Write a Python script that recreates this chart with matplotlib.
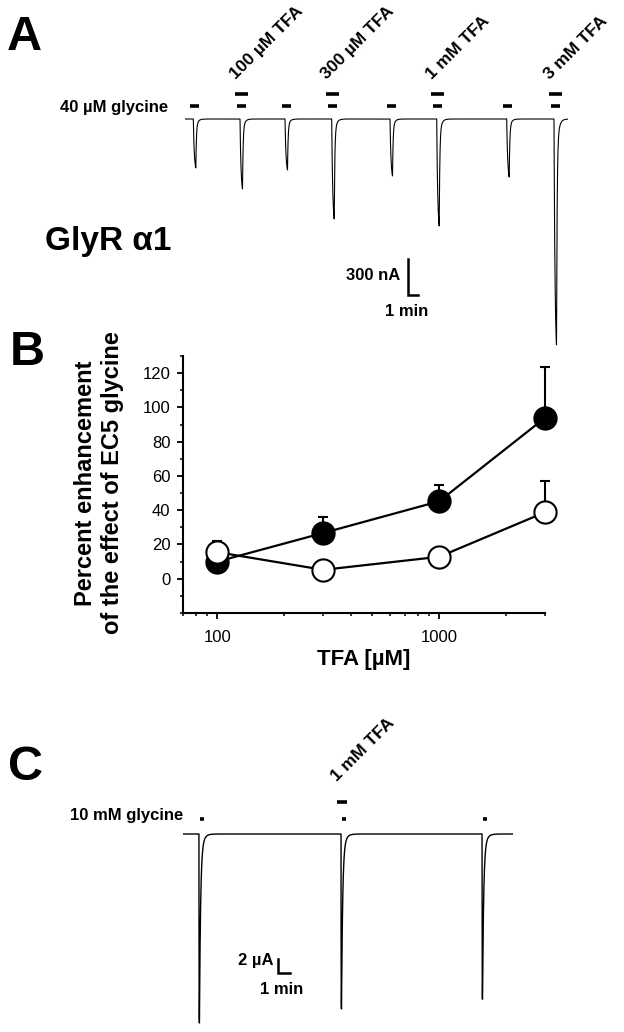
import numpy as np
import matplotlib
matplotlib.use('Agg')
import matplotlib.pyplot as plt
from matplotlib.ticker import FixedLocator, MultipleLocator, LogLocator, NullFormatter

plt.rcParams['font.family'] = ['Liberation Sans', 'DejaVu Sans']

# ---- data ----
# panel A: 40 uM glycine applications (min) and peak currents (nA)
A_times = [0.83, 5.5, 10.0, 14.67, 20.5, 25.17, 32.17, 36.9]
A_amps = [408, 583, 425, 833, 475, 892, 483, 1883]
A_tfa_idx = [1, 3, 5, 7]
A_tfa_labels = ['100 µM TFA', '300 µM TFA', '1 mM TFA', '3 mM TFA']
A_end = 38.3

# panel B: percent enhancement vs TFA concentration
tfa_conc = [100, 300, 1000, 3000]
filled_mean = [10.0, 26.7, 45.2, 93.9]
filled_sem = [3.0, 9.3, 9.3, 29.6]
open_mean = [15.5, 5.2, 12.8, 38.8]
open_sem = [6.5, 3.0, 3.0, 18.0]

# panel C: 10 mM glycine applications (min) and peak currents (uA)
C_times = [1.33, 13.17, 24.92]
C_amps = [27.0, 25.0, 23.6]
C_tfa_idx = [1]
C_tfa_labels = ['1 mM TFA']
C_end = 27.5

W, H = 624, 1032
fig = plt.figure(figsize=(W / 100, H / 100), dpi=100)


def fx(px):
    return px / W


def fy(py):
    return 1 - py / H


def trace(t, times, amps, tau_on, dur, tau1, tau2, frac):
    y = np.zeros_like(t)
    for t0, a in zip(times, amps):
        s = t - t0
        on = (s >= 0) & (s < dur)
        y[on] -= a * (1 - np.exp(-s[on] / tau_on)) / (1 - np.exp(-dur / tau_on))
        off = s >= dur
        r = s[off] - dur
        y[off] -= a * ((1 - frac) * np.exp(-r / tau1) + frac * np.exp(-r / tau2))
    return y


def bar(ax, x0, x1, y):
    ax.plot([x0, x1], [y, y], color='k', lw=2.6, solid_capstyle='butt', clip_on=False)


# ---------------- panel A ----------------
pxmin_A = 10.0          # px per min
pxnA = 36 / 300.0       # px per nA
base_A = 119
axA = fig.add_axes([fx(185), fy(350), (568 - 185) / W, (350 - 60) / H])
tA = np.linspace(0, A_end, 30000)
axA.plot(tA, trace(tA, A_times, A_amps, 0.1, 0.25, 0.06, 0.2, 0.15), color='k', lw=0.8)
axA.set_xlim(0, A_end)
axA.set_ylim(-(350 - base_A) / pxnA, (base_A - 60) / pxnA)
axA.axis('off')

gly_y = 13 / pxnA
tfa_y = 25 / pxnA
for t0 in A_times:
    bar(axA, t0 - 0.33, t0 + 0.57, gly_y)
for i, lab in zip(A_tfa_idx, A_tfa_labels):
    t0 = A_times[i]
    bar(axA, t0 - 0.55, t0 + 0.75, tfa_y)
    axA.text(t0 - 0.45, 39 / pxnA, lab, rotation=45, rotation_mode='anchor',
             ha='left', va='baseline', fontsize=12.5, fontweight='bold')

# scale bar A: 300 nA, 1 min
sbx = (407.7 - 185) / pxmin_A
sby = -(295 - base_A) / pxnA
axA.plot([sbx, sbx, sbx + 1], [sby + 300, sby, sby], color='k', lw=1.8,
         solid_joinstyle='miter', clip_on=False)

fig.text(fx(7), fy(50), 'A', fontsize=35, fontweight='bold', va='baseline')
fig.text(fx(168), fy(112), '40 µM glycine', fontsize=12, fontweight='bold',
         ha='right', va='baseline')
fig.text(fx(45), fy(250), 'GlyR α1', fontsize=24, fontweight='bold', va='baseline')
fig.text(fx(400), fy(275), '300 nA', fontsize=12, fontweight='bold', ha='right', va='center')
fig.text(fx(407), fy(311), '1 min', fontsize=12, fontweight='bold', ha='center', va='center')

# ---------------- panel B ----------------
axB = fig.add_axes([fx(183), fy(613), (545 - 183) / W, (613 - 356) / H])
axB.set_xscale('log')
z = np.zeros(len(tfa_conc))
for mean, sem, face, zo in [(filled_mean, filled_sem, 'k', 3), (open_mean, open_sem, 'white', 4)]:
    eb = axB.errorbar(tfa_conc, mean, yerr=[z, sem], fmt='-o', color='k',
                      mfc=face, mec='k', ms=16, lw=1.6, mew=1.5, capsize=3.5,
                      capthick=1.5, elinewidth=1.5, zorder=zo)
    for art in eb.get_children():
        art.set_clip_on(False)
axB.set_xlim(70, 3000)
axB.set_ylim(-20, 130)
axB.yaxis.set_major_locator(FixedLocator(range(0, 121, 20)))
axB.yaxis.set_minor_locator(MultipleLocator(10))
axB.xaxis.set_major_locator(FixedLocator([100, 1000]))
axB.set_xticklabels(['100', '1000'])
axB.xaxis.set_minor_locator(LogLocator(base=10, subs=np.arange(2, 10)))
axB.xaxis.set_minor_formatter(NullFormatter())
for s in ['top', 'right']:
    axB.spines[s].set_visible(False)
for s in ['left', 'bottom']:
    axB.spines[s].set_linewidth(1.5)
axB.tick_params(which='major', direction='out', length=4, width=1.3, labelsize=12, pad=5)
axB.tick_params(which='minor', direction='out', length=2.5, width=1.1)
axB.tick_params(axis='x', which='major', pad=8)

fig.text(fx(10), fy(365), 'B', fontsize=35, fontweight='bold', va='baseline')
fig.text(fx(99), fy(483), 'Percent enhancement\nof the effect of EC5 glycine', fontsize=17,
         fontweight='bold', rotation=90, ha='center', va='center', multialignment='center')
fig.text(fx(364), fy(660), 'TFA [µM]', fontsize=16, fontweight='bold', ha='center', va='center')

# ---------------- panel C ----------------
pxmin_C = 12.0
pxuA = 14 / 2.0
base_C = 834
axC = fig.add_axes([fx(183), fy(1030), (513 - 183) / W, (1030 - 760) / H])
tC = np.linspace(0, C_end, 30000)
axC.plot(tC, trace(tC, C_times, C_amps, 0.005, 0.04, 0.09, 0.22, 0.15), color='k', lw=1.0)
axC.set_xlim(0, C_end)
axC.set_ylim(-(1030 - base_C) / pxuA, (base_C - 760) / pxuA)
axC.axis('off')

for t0 in C_times:
    bar(axC, t0 + 0.07, t0 + 0.4, 15.5 / pxuA)
for i, lab in zip(C_tfa_idx, C_tfa_labels):
    t0 = C_times[i]
    bar(axC, t0 - 0.33, t0 + 0.5, 32 / pxuA)
    axC.text(t0 - 0.33, 52 / pxuA, lab, rotation=45, rotation_mode='anchor',
             ha='left', va='baseline', fontsize=12.5, fontweight='bold')

sbx = (278 - 183) / pxmin_C
sby = -(973 - base_C) / pxuA
axC.plot([sbx, sbx, sbx + 1], [sby + 2, sby, sby], color='k', lw=1.8,
         solid_joinstyle='miter', clip_on=False)

fig.text(fx(8), fy(780), 'C', fontsize=35, fontweight='bold', va='baseline')
fig.text(fx(183), fy(820), '10 mM glycine', fontsize=12, fontweight='bold',
         ha='right', va='baseline')
fig.text(fx(273), fy(961), '2 µA', fontsize=12, fontweight='bold', ha='right', va='center')
fig.text(fx(282), fy(990), '1 min', fontsize=12, fontweight='bold', ha='center', va='center')

fig.savefig('out.png', dpi=100)
